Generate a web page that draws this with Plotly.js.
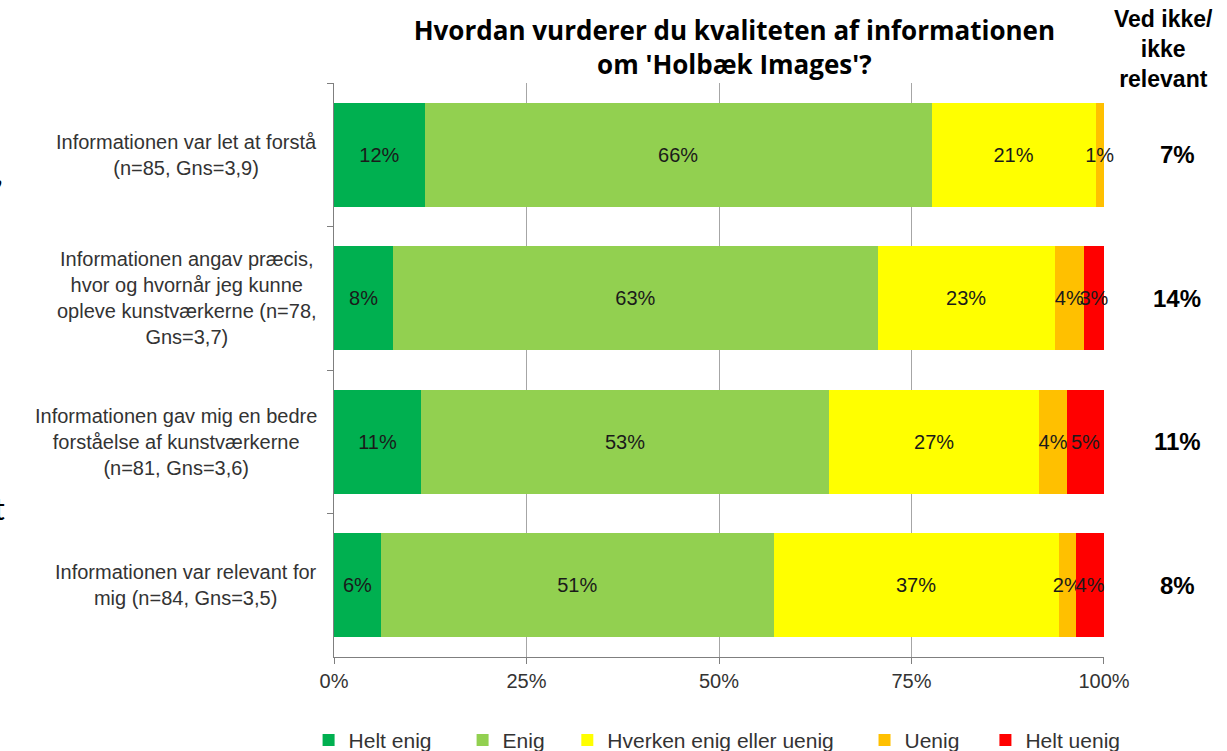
<!DOCTYPE html>
<html>
<head>
<meta charset="utf-8">
<script src="https://cdn.plot.ly/plotly-3.0.1.min.js"></script>
<style>html,body{margin:0;padding:0;background:#fff;}#chart{width:1227px;height:751px;}</style>
</head>
<body>
<div id="chart"></div>
<script>
// Data
var categories = [
  "Informationen var let at forstå<br>(n=85, Gns=3,9)",
  "Informationen angav præcis,<br>hvor og hvornår jeg kunne<br>opleve kunstværkerne (n=78,<br>Gns=3,7)",
  "Informationen gav mig en bedre<br>forståelse af kunstværkerne<br>(n=81, Gns=3,6)",
  "Informationen var relevant for<br>mig (n=84, Gns=3,5)"
];
var catKeys = ["q1", "q2", "q3", "q4"];
var seriesNames = ["Helt enig", "Enig", "Hverken enig eller uenig", "Uenig", "Helt uenig"];
var heltEnig   = [11.8, 7.7, 11.3, 6.1];
var enig       = [65.8, 62.9, 53.0, 51.0];
var hverken    = [21.3, 23.0, 27.3, 37.0];
var uenig      = [1.1, 3.8, 3.6, 2.3];
var heltUenig  = [null, 2.6, 4.8, 3.6];
var vedIkke    = [7, 14, 11, 8];
var xTickVals  = [0, 25, 50, 75, 100];
var xTickText  = ["0%", "25%", "50%", "75%", "100%"];
var colors     = ["#00B050", "#92D050", "#FFFF00", "#FFC000", "#FF0000"];
var legendX    = [-0.033, 0.167, 0.303, 0.689, 0.846];

var values = [heltEnig, enig, hverken, uenig, heltUenig];
var legendIds = ["legend", "legend2", "legend3", "legend4", "legend5"];
var FONT = "Liberation Sans, Arial, sans-serif";

var traces = values.map(function (v, i) {
  return {
    type: "bar",
    orientation: "h",
    name: seriesNames[i],
    x: v,
    y: catKeys,
    marker: {color: colors[i], line: {width: 0}},
    texttemplate: "%{x:.0f}%",
    textposition: "inside",
    insidetextanchor: "middle",
    constraintext: "none",
    textangle: 0,
    cliponaxis: false,
    textfont: {family: FONT, size: 20, color: "#1a1a1a"},
    legend: legendIds[i],
    hoverinfo: "x+name"
  };
});

var annotations = [];
categories.forEach(function (c, i) {
  annotations.push({
    xref: "paper", yref: "y", x: 0, y: catKeys[i],
    xanchor: "right", yanchor: "middle", xshift: -15,
    text: c, showarrow: false, align: "center",
    font: {family: FONT, size: 20, color: "#333333"}
  });
  annotations.push({
    xref: "paper", yref: "y", x: 1.095, y: catKeys[i],
    xanchor: "center", yanchor: "middle",
    text: "<b>" + vedIkke[i] + "%</b>", showarrow: false,
    font: {family: FONT, size: 24, color: "#000000"}
  });
});
annotations.push({
  xref: "paper", yref: "paper", x: 1.077, y: 1.06,
  xanchor: "center", yanchor: "middle",
  text: "<b>Ved ikke/<br>ikke<br>relevant</b>", showarrow: false, align: "center",
  font: {family: FONT, size: 23, color: "#000000"}
});
// cropped slide remnants at the far left edge
annotations.push({
  xref: "paper", yref: "paper", x: -0.4275, y: 0.845, xanchor: "right", yanchor: "middle",
  text: ",", showarrow: false, font: {family: "Lato, sans-serif", size: 30, color: "#000"}
});
annotations.push({
  xref: "paper", yref: "paper", x: -0.425, y: 0.26, xanchor: "right", yanchor: "middle",
  text: "t", showarrow: false, font: {family: "Lato, sans-serif", size: 30, color: "#000"}
});

var layout = {
  width: 1227, height: 751,
  margin: {l: 334, r: 123, t: 83, b: 94, autoexpand: false},
  paper_bgcolor: "#ffffff", plot_bgcolor: "#ffffff",
  barmode: "stack",
  bargap: 0.275,
  title: {
    text: "<b>Hvordan vurderer du kvaliteten af informationen<br>om 'Holbæk Images'?</b>",
    x: 0.5985, xanchor: "center", y: 0.947, yanchor: "middle",
    font: {family: "Open Sans, sans-serif", size: 26, color: "#000000"}
  },
  xaxis: {
    range: [0, 100.001], tickvals: xTickVals, ticktext: xTickText,
    showgrid: true, gridcolor: "#a6a6a6", gridwidth: 1,
    zeroline: false, showline: true, linecolor: "#7f7f7f", linewidth: 1,
    ticks: "outside", ticklen: 6, tickcolor: "#7f7f7f",
    tickfont: {family: FONT, size: 20, color: "#333333"},
    fixedrange: true
  },
  yaxis: {
    type: "category", categoryorder: "array", categoryarray: catKeys,
    autorange: "reversed",
    showticklabels: false, showgrid: false, zeroline: false,
    showline: true, linecolor: "#7f7f7f", linewidth: 1,
    ticks: "outside", ticklen: 6, tickcolor: "#7f7f7f", tickson: "boundaries",
    fixedrange: true
  },
  annotations: annotations,
  showlegend: true
};
legendIds.forEach(function (id, i) {
  layout[id] = {
    orientation: "h", x: legendX[i], xanchor: "left", y: -0.145, yanchor: "middle",
    font: {family: FONT, size: 21, color: "#333333"},
    bgcolor: "rgba(0,0,0,0)", borderwidth: 0
  };
});

Plotly.newPlot("chart", traces, layout, {displayModeBar: false, staticPlot: true});
</script>
</body>
</html>
